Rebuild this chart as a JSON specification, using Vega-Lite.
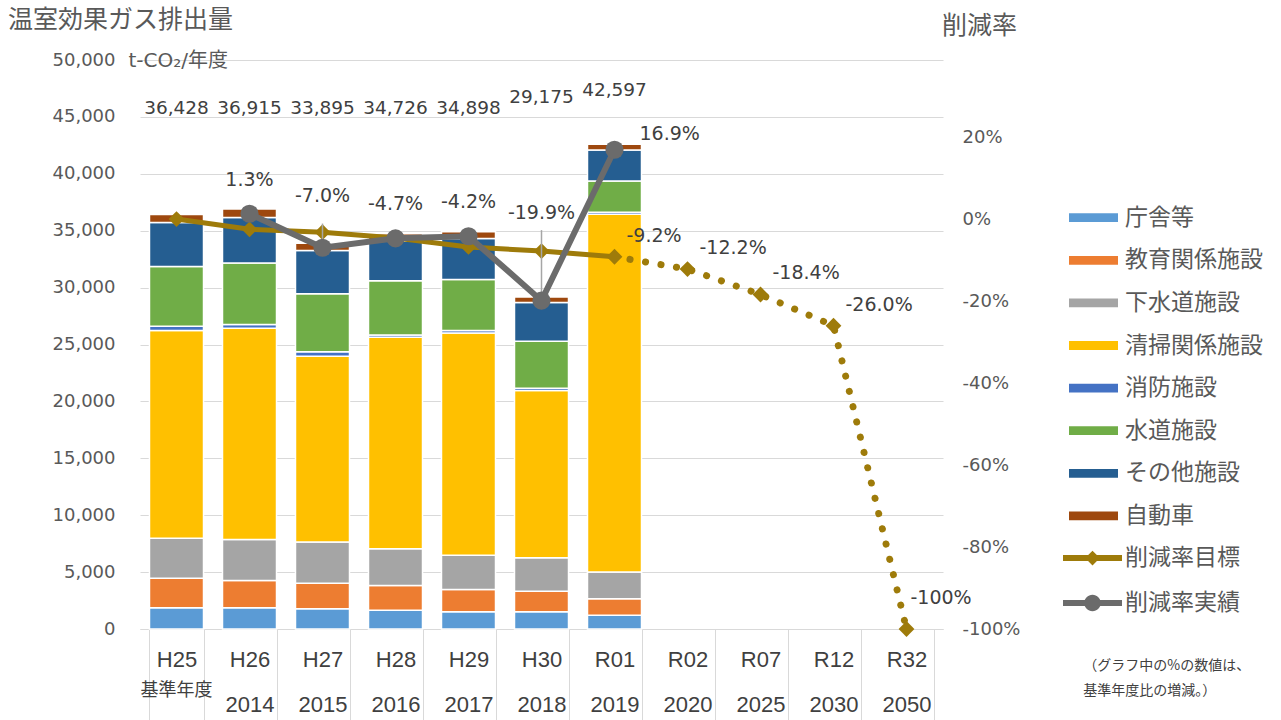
{
  "$schema": "https://vega.github.io/schema/vega-lite/v6.json",
  "width": 803,
  "height": 569,
  "autosize": {"type": "none"},
  "padding": {"left": 140, "top": 60, "right": 338, "bottom": 91},
  "background": "white",
  "title": {"text": "温室効果ガス排出量", "anchor": "start", "frame": "group", "dx": -132, "offset": -32, "baseline": "middle", "fontSize": 25, "fontWeight": "normal", "color": "#595959", "font": "Noto Sans CJK JP"},
  "config": {
    "view": {"stroke": null},
    "font": "DejaVu Sans, Noto Sans CJK JP",
    "locale": {"number": {"decimal": ".", "thousands": ",", "grouping": [3], "currency": ["", ""], "minus": "-"}}
  },
  "datasets": {
    "types": [
      {"type": "庁舎等", "rank": 1},
      {"type": "教育関係施設", "rank": 2},
      {"type": "下水道施設", "rank": 3},
      {"type": "清掃関係施設", "rank": 4},
      {"type": "消防施設", "rank": 5},
      {"type": "水道施設", "rank": 6},
      {"type": "その他施設", "rank": 7},
      {"type": "自動車", "rank": 8}
    ],
    "segments": [
      {"cat": "H25", "type": "庁舎等", "value": 1870},
      {"cat": "H25", "type": "教育関係施設", "value": 2580},
      {"cat": "H25", "type": "下水道施設", "value": 3520},
      {"cat": "H25", "type": "清掃関係施設", "value": 18250},
      {"cat": "H25", "type": "消防施設", "value": 390},
      {"cat": "H25", "type": "水道施設", "value": 5240},
      {"cat": "H25", "type": "その他施設", "value": 3870},
      {"cat": "H25", "type": "自動車", "value": 708},
      {"cat": "H26", "type": "庁舎等", "value": 1870},
      {"cat": "H26", "type": "教育関係施設", "value": 2390},
      {"cat": "H26", "type": "下水道施設", "value": 3600},
      {"cat": "H26", "type": "清掃関係施設", "value": 18560},
      {"cat": "H26", "type": "消防施設", "value": 330},
      {"cat": "H26", "type": "水道施設", "value": 5420},
      {"cat": "H26", "type": "その他施設", "value": 4000},
      {"cat": "H26", "type": "自動車", "value": 745},
      {"cat": "H27", "type": "庁舎等", "value": 1780},
      {"cat": "H27", "type": "教育関係施設", "value": 2230},
      {"cat": "H27", "type": "下水道施設", "value": 3630},
      {"cat": "H27", "type": "清掃関係施設", "value": 16330},
      {"cat": "H27", "type": "消防施設", "value": 390},
      {"cat": "H27", "type": "水道施設", "value": 5100},
      {"cat": "H27", "type": "その他施設", "value": 3790},
      {"cat": "H27", "type": "自動車", "value": 645},
      {"cat": "H28", "type": "庁舎等", "value": 1650},
      {"cat": "H28", "type": "教育関係施設", "value": 2170},
      {"cat": "H28", "type": "下水道施設", "value": 3240},
      {"cat": "H28", "type": "清掃関係施設", "value": 18580},
      {"cat": "H28", "type": "消防施設", "value": 200},
      {"cat": "H28", "type": "水道施設", "value": 4770},
      {"cat": "H28", "type": "その他施設", "value": 3490},
      {"cat": "H28", "type": "自動車", "value": 626},
      {"cat": "H29", "type": "庁舎等", "value": 1520},
      {"cat": "H29", "type": "教育関係施設", "value": 1950},
      {"cat": "H29", "type": "下水道施設", "value": 3010},
      {"cat": "H29", "type": "清掃関係施設", "value": 19540},
      {"cat": "H29", "type": "消防施設", "value": 200},
      {"cat": "H29", "type": "水道施設", "value": 4500},
      {"cat": "H29", "type": "その他施設", "value": 3590},
      {"cat": "H29", "type": "自動車", "value": 588},
      {"cat": "H30", "type": "庁舎等", "value": 1520},
      {"cat": "H30", "type": "教育関係施設", "value": 1800},
      {"cat": "H30", "type": "下水道施設", "value": 2940},
      {"cat": "H30", "type": "清掃関係施設", "value": 14690},
      {"cat": "H30", "type": "消防施設", "value": 210},
      {"cat": "H30", "type": "水道施設", "value": 4130},
      {"cat": "H30", "type": "その他施設", "value": 3390},
      {"cat": "H30", "type": "自動車", "value": 495},
      {"cat": "R01", "type": "庁舎等", "value": 1200},
      {"cat": "R01", "type": "教育関係施設", "value": 1460},
      {"cat": "R01", "type": "下水道施設", "value": 2350},
      {"cat": "R01", "type": "清掃関係施設", "value": 31440},
      {"cat": "R01", "type": "消防施設", "value": 180},
      {"cat": "R01", "type": "水道施設", "value": 2730},
      {"cat": "R01", "type": "その他施設", "value": 2740},
      {"cat": "R01", "type": "自動車", "value": 497}
    ],
    "totals": [
      {"cat": "H25", "total": 36428},
      {"cat": "H26", "total": 36915},
      {"cat": "H27", "total": 33895},
      {"cat": "H28", "total": 34726},
      {"cat": "H29", "total": 34898},
      {"cat": "H30", "total": 29175},
      {"cat": "R01", "total": 42597}
    ],
    "rates": [
      {"cat": "H25", "series": "削減率目標", "rate": 0},
      {"cat": "H26", "series": "削減率目標", "rate": -0.025},
      {"cat": "H27", "series": "削減率目標", "rate": -0.032},
      {"cat": "H28", "series": "削減率目標", "rate": -0.046},
      {"cat": "H29", "series": "削減率目標", "rate": -0.068},
      {"cat": "H30", "series": "削減率目標", "rate": -0.078},
      {"cat": "R01", "series": "削減率目標", "rate": -0.092},
      {"cat": "R02", "series": "削減率目標", "rate": -0.122},
      {"cat": "R07", "series": "削減率目標", "rate": -0.184},
      {"cat": "R12", "series": "削減率目標", "rate": -0.26},
      {"cat": "R32", "series": "削減率目標", "rate": -1.0},
      {"cat": "H26", "series": "削減率実績", "rate": 0.013},
      {"cat": "H27", "series": "削減率実績", "rate": -0.07},
      {"cat": "H28", "series": "削減率実績", "rate": -0.047},
      {"cat": "H29", "series": "削減率実績", "rate": -0.042},
      {"cat": "H30", "series": "削減率実績", "rate": -0.199},
      {"cat": "R01", "series": "削減率実績", "rate": 0.169}
    ]
  },
  "layer": [
    {
      "layer": [
        {
          "data": {"name": "segments"},
          "transform": [{"lookup": "type", "from": {"data": {"name": "types"}, "key": "type", "fields": ["rank"]}}],
          "mark": {"type": "bar", "stroke": "white", "strokeWidth": 1.5},
          "encoding": {
            "x": {
              "field": "cat", "type": "nominal",
              "sort": ["H25","H26","H27","H28","H29","H30","R01","R02","R07","R12","R32"],
              "scale": {"domain": ["H25","H26","H27","H28","H29","H30","R01","R02","R07","R12","R32"], "paddingInner": 0.26, "paddingOuter": 0.13},
              "axis": {
                "title": null,
                "labelExpr": "[datum.value, datum.value == 'H25' ? '' : ['2013','2014','2015','2016','2017','2018','2019','2020','2025','2030','2050'][indexof(['H25','H26','H27','H28','H29','H30','R01','R02','R07','R12','R32'], datum.value)]]",
                "labelAngle": 0, "labelFont": "Liberation Sans", "labelFontSize": 22, "labelLineHeight": 45,
                "labelBaseline": "top", "labelPadding": -71, "labelColor": "#404040", "labelOverlap": false, "labelBound": false,
                "tickBand": "extent", "tickSize": 91, "tickColor": "#D9D9D9", "tickWidth": 1,
                "domainColor": "#D9D9D9", "domainWidth": 1, "grid": false
              }
            },
            "y": {
              "field": "value", "type": "quantitative", "stack": "zero",
              "scale": {"domain": [0, 50000], "nice": false},
              "axis": {
                "values": [0,5000,10000,15000,20000,25000,30000,35000,40000,45000,50000],
                "labelExpr": "format(datum.value, ',')", "grid": true, "gridColor": "#D9D9D9", "gridWidth": 1,
                "domain": false, "ticks": false, "labelPadding": 25, "labelFontSize": 18, "labelColor": "#595959",
                "title": "t-CO₂/年度", "titleAngle": 0, "titleAlign": "left", "titleBaseline": "middle",
                "titleX": -12, "titleY": 0, "titleFontSize": 20, "titleFontWeight": "normal", "titleColor": "#595959"
              }
            },
            "order": {"field": "rank", "type": "quantitative", "sort": "ascending"},
            "fill": {
              "field": "type", "type": "nominal",
              "sort": ["庁舎等","教育関係施設","下水道施設","清掃関係施設","消防施設","水道施設","その他施設","自動車"],
              "scale": {
                "domain": ["庁舎等","教育関係施設","下水道施設","清掃関係施設","消防施設","水道施設","その他施設","自動車"],
                "range": ["#5B9BD5","#ED7D31","#A5A5A5","#FFC000","#4472C4","#70AD47","#255E91","#9E480E"]
              },
              "legend": {
                "orient": "none", "legendX": 929, "legendY": 146.7, "title": null, "padding": 0,
                "symbolType": "M-1,-0.18H1V0.18H-1Z", "symbolSize": 2401, "symbolStrokeWidth": 0,
                "clipHeight": 22, "rowPadding": 19.6,
                "labelFontSize": 23, "labelFont": "Noto Sans CJK JP", "labelColor": "#595959", "labelOffset": 7, "labelLimit": 300
              }
            }
          }
        },
        {
          "data": {"name": "totals"},
          "transform": [{"filter": {"field": "cat", "oneOf": ["H25","H26","H27","H28","H29"]}}],
          "mark": {"type": "text", "fontSize": 18.5, "color": "#404040", "baseline": "middle"},
          "encoding": {
            "x": {"field": "cat", "type": "nominal", "sort": ["H25","H26","H27","H28","H29","H30","R01","R02","R07","R12","R32"]},
            "y": {"datum": 45800, "type": "quantitative"},
            "text": {"field": "total", "type": "quantitative", "format": ","}
          }
        },
        {
          "data": {"name": "totals"},
          "transform": [{"filter": {"field": "cat", "equal": "H30"}}],
          "mark": {"type": "text", "fontSize": 18.5, "color": "#404040", "baseline": "middle"},
          "encoding": {
            "x": {"field": "cat", "type": "nominal", "sort": ["H25","H26","H27","H28","H29","H30","R01","R02","R07","R12","R32"]},
            "y": {"datum": 46750, "type": "quantitative"},
            "text": {"field": "total", "type": "quantitative", "format": ","}
          }
        },
        {
          "data": {"name": "totals"},
          "transform": [{"filter": {"field": "cat", "equal": "R01"}}],
          "mark": {"type": "text", "fontSize": 18.5, "color": "#404040", "baseline": "middle"},
          "encoding": {
            "x": {"field": "cat", "type": "nominal", "sort": ["H25","H26","H27","H28","H29","H30","R01","R02","R07","R12","R32"]},
            "y": {"datum": 47350, "type": "quantitative"},
            "text": {"field": "total", "type": "quantitative", "format": ","}
          }
        }
      ]
    },
    {
      "data": {"name": "rates"},
      "layer": [
        {
          "transform": [
            {"filter": {"field": "series", "equal": "削減率目標"}},
            {"filter": {"field": "cat", "oneOf": ["H25","H26","H27","H28","H29","H30","R01"]}}
          ],
          "mark": {"type": "line", "strokeWidth": 5},
          "encoding": {
            "x": {
              "field": "cat", "type": "nominal", "sort": ["H25","H26","H27","H28","H29","H30","R01","R02","R07","R12","R32"],
              "axis": {
                "orient": "bottom", "title": null, "labelExpr": "datum.value == 'H25' ? '基準年度' : ''",
                "labelFont": "Noto Sans CJK JP", "labelFontSize": 18, "labelColor": "#404040", "labelBaseline": "middle",
                "labelPadding": 61, "ticks": false, "domain": false, "grid": false, "labelAngle": 0, "labelOverlap": false
              }
            },
            "y": {
              "field": "rate", "type": "quantitative",
              "scale": {"domain": [-1, 0.388], "nice": false, "zero": false},
              "axis": {
                "orient": "right", "values": [-1,-0.8,-0.6,-0.4,-0.2,0,0.2], "format": ".0%",
                "grid": false, "domain": false, "ticks": false, "labelPadding": 19, "labelFontSize": 18, "labelColor": "#595959",
                "title": "削減率", "titleAngle": 0, "titleX": 36, "titleY": -35, "titleAlign": "center", "titleBaseline": "middle",
                "titleFontSize": 25, "titleFontWeight": "normal", "titleColor": "#595959", "titleFont": "Noto Sans CJK JP"
              }
            },
            "color": {
              "field": "series", "type": "nominal",
              "scale": {"domain": ["削減率目標","削減率実績"], "range": ["#9E7B0A","#6B6B6B"]},
              "legend": {
                "orient": "none", "legendX": 923, "legendY": 487, "padding": 0,
                "title": ["\u200b\u3000\u00a0\u00a0（グラフ中の%の数値は、", "\u200b\u3000\u00a0\u00a0基準年度比の増減。）"],
                "titleOrient": "bottom", "titleFontSize": 14, "titleFont": "Noto Sans CJK JP", "titleFontWeight": "normal",
                "titleColor": "#404040", "titleLineHeight": 25, "titlePadding": 44, "titleLimit": 400, "titleAnchor": "start", "titleAlign": "left",
                "symbolType": "M-1,-0.1H1V0.1H-1Z", "symbolSize": 3481, "symbolStrokeWidth": 0,
                "clipHeight": 22, "rowPadding": 22,
                "labelFontSize": 23, "labelFont": "Noto Sans CJK JP", "labelColor": "#595959", "labelOffset": 3, "labelLimit": 300,
                "encode": {
                  "symbols": {
                    "update": {
                      "fill": {"scale": "color", "field": "value"},
                      "shape": {"signal": "datum.value === '削減率目標' ? 'M-1,-0.1H1V0.1H-1Z M0,-0.25L0.25,0L0,0.25L-0.25,0Z' : 'M-1,-0.1H1V0.1H-1Z M-0.28,0A0.28,0.28 0 1,1 0.28,0A0.28,0.28 0 1,1 -0.28,0Z'"},
                      "strokeWidth": {"value": 0},
                      "opacity": {"value": 1}
                    }
                  }
                }
              }
            }
          }
        },
        {
          "transform": [
            {"filter": {"field": "series", "equal": "削減率目標"}},
            {"filter": {"field": "cat", "oneOf": ["R01","R02","R07","R12","R32"]}}
          ],
          "mark": {"type": "line", "strokeWidth": 7, "strokeDash": [0.1, 15.6], "strokeCap": "round"},
          "encoding": {
            "x": {"field": "cat", "type": "nominal", "sort": ["H25","H26","H27","H28","H29","H30","R01","R02","R07","R12","R32"]},
            "y": {"field": "rate", "type": "quantitative"},
            "color": {"field": "series", "type": "nominal"}
          }
        },
        {
          "transform": [{"filter": {"field": "series", "equal": "削減率目標"}}],
          "mark": {"type": "point", "shape": "diamond", "filled": true, "size": 250, "opacity": 1},
          "encoding": {
            "x": {"field": "cat", "type": "nominal", "sort": ["H25","H26","H27","H28","H29","H30","R01","R02","R07","R12","R32"]},
            "y": {"field": "rate", "type": "quantitative"},
            "color": {"field": "series", "type": "nominal"}
          }
        },
        {
          "transform": [
            {"filter": {"field": "series", "equal": "削減率実績"}},
            {"filter": {"field": "cat", "equal": "H27"}}
          ],
          "mark": {"type": "rule", "color": "#A6A6A6", "strokeWidth": 1.5},
          "encoding": {
            "x": {"field": "cat", "type": "nominal", "sort": ["H25","H26","H27","H28","H29","H30","R01","R02","R07","R12","R32"]},
            "y": {"field": "rate", "type": "quantitative"},
            "y2": {"datum": -0.011}
          }
        },
        {
          "transform": [
            {"filter": {"field": "series", "equal": "削減率実績"}},
            {"filter": {"field": "cat", "equal": "H30"}}
          ],
          "mark": {"type": "rule", "color": "#A6A6A6", "strokeWidth": 1.5},
          "encoding": {
            "x": {"field": "cat", "type": "nominal", "sort": ["H25","H26","H27","H28","H29","H30","R01","R02","R07","R12","R32"]},
            "y": {"field": "rate", "type": "quantitative"},
            "y2": {"datum": -0.027}
          }
        },
        {
          "transform": [{"filter": {"field": "series", "equal": "削減率実績"}}],
          "mark": {"type": "line", "strokeWidth": 6},
          "encoding": {
            "x": {"field": "cat", "type": "nominal", "sort": ["H25","H26","H27","H28","H29","H30","R01","R02","R07","R12","R32"]},
            "y": {"field": "rate", "type": "quantitative"},
            "color": {"field": "series", "type": "nominal"}
          }
        },
        {
          "transform": [{"filter": {"field": "series", "equal": "削減率実績"}}],
          "mark": {"type": "point", "shape": "circle", "filled": true, "size": 330, "opacity": 1},
          "encoding": {
            "x": {"field": "cat", "type": "nominal", "sort": ["H25","H26","H27","H28","H29","H30","R01","R02","R07","R12","R32"]},
            "y": {"field": "rate", "type": "quantitative"},
            "color": {"field": "series", "type": "nominal"}
          }
        },
        {
          "transform": [
            {"filter": {"field": "series", "equal": "削減率実績"}},
            {"filter": {"field": "cat", "oneOf": ["H26","H28","H29"]}}
          ],
          "mark": {"type": "text", "fontSize": 19, "color": "#404040", "baseline": "middle", "dy": -34},
          "encoding": {
            "x": {"field": "cat", "type": "nominal", "sort": ["H25","H26","H27","H28","H29","H30","R01","R02","R07","R12","R32"]},
            "y": {"field": "rate", "type": "quantitative"},
            "text": {"field": "rate", "type": "quantitative", "format": ".1%"}
          }
        },
        {
          "transform": [
            {"filter": {"field": "series", "equal": "削減率実績"}},
            {"filter": {"field": "cat", "equal": "H27"}}
          ],
          "mark": {"type": "text", "fontSize": 19, "color": "#404040", "baseline": "middle", "dy": -52},
          "encoding": {
            "x": {"field": "cat", "type": "nominal", "sort": ["H25","H26","H27","H28","H29","H30","R01","R02","R07","R12","R32"]},
            "y": {"field": "rate", "type": "quantitative"},
            "text": {"field": "rate", "type": "quantitative", "format": ".1%"}
          }
        },
        {
          "transform": [
            {"filter": {"field": "series", "equal": "削減率実績"}},
            {"filter": {"field": "cat", "equal": "H30"}}
          ],
          "mark": {"type": "text", "fontSize": 19, "color": "#404040", "baseline": "middle", "dy": -88},
          "encoding": {
            "x": {"field": "cat", "type": "nominal", "sort": ["H25","H26","H27","H28","H29","H30","R01","R02","R07","R12","R32"]},
            "y": {"field": "rate", "type": "quantitative"},
            "text": {"field": "rate", "type": "quantitative", "format": ".1%"}
          }
        },
        {
          "transform": [
            {"filter": {"field": "series", "equal": "削減率実績"}},
            {"filter": {"field": "cat", "equal": "R01"}}
          ],
          "mark": {"type": "text", "fontSize": 19, "color": "#404040", "baseline": "middle", "align": "left", "dx": 25, "dy": -16},
          "encoding": {
            "x": {"field": "cat", "type": "nominal", "sort": ["H25","H26","H27","H28","H29","H30","R01","R02","R07","R12","R32"]},
            "y": {"field": "rate", "type": "quantitative"},
            "text": {"field": "rate", "type": "quantitative", "format": ".1%"}
          }
        },
        {
          "transform": [
            {"filter": {"field": "series", "equal": "削減率目標"}},
            {"filter": {"field": "cat", "oneOf": ["R01","R02","R07","R12"]}}
          ],
          "mark": {"type": "text", "fontSize": 19, "color": "#404040", "baseline": "middle", "align": "left", "dx": 12, "dy": -21},
          "encoding": {
            "x": {"field": "cat", "type": "nominal", "sort": ["H25","H26","H27","H28","H29","H30","R01","R02","R07","R12","R32"]},
            "y": {"field": "rate", "type": "quantitative"},
            "text": {"field": "rate", "type": "quantitative", "format": ".1%"}
          }
        },
        {
          "transform": [
            {"filter": {"field": "series", "equal": "削減率目標"}},
            {"filter": {"field": "cat", "equal": "R32"}}
          ],
          "mark": {"type": "text", "fontSize": 19, "color": "#404040", "baseline": "middle", "align": "left", "dx": 4, "dy": -31},
          "encoding": {
            "x": {"field": "cat", "type": "nominal", "sort": ["H25","H26","H27","H28","H29","H30","R01","R02","R07","R12","R32"]},
            "y": {"field": "rate", "type": "quantitative"},
            "text": {"field": "rate", "type": "quantitative", "format": ".0%"}
          }
        }
      ]
    }
  ],
  "resolve": {"scale": {"y": "independent"}, "axis": {"x": "independent"}}
}
